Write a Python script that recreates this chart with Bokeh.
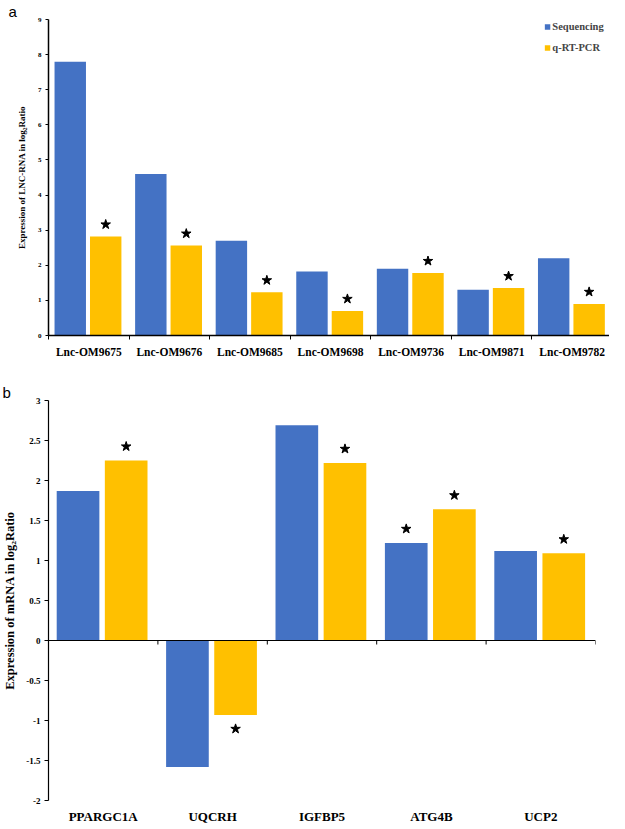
from bokeh.plotting import figure
from bokeh.layouts import column
from bokeh.models import (FixedTicker, NumeralTickFormatter, Range1d, Span, Title,
                          ColumnDataSource, Legend, LegendItem)
from bokeh.embed import file_html
from bokeh.resources import INLINE

# ---------------- data ----------------
cats_a = ["Lnc-OM9675", "Lnc-OM9676", "Lnc-OM9685", "Lnc-OM9698",
          "Lnc-OM9736", "Lnc-OM9871", "Lnc-OM9782"]
seq_a = [7.8, 4.6, 2.7, 1.82, 1.9, 1.3, 2.2]
qpcr_a = [2.82, 2.56, 1.23, 0.7, 1.78, 1.35, 0.9]
star_seq_a = [False] * 7
star_qpcr_a = [True] * 7
yticks_a = [0, 1, 2, 3, 4, 5, 6, 7, 8, 9]

cats_b = ["PPARGC1A", "UQCRH", "IGFBP5", "ATG4B", "UCP2"]
seq_b = [1.87, -1.58, 2.69, 1.22, 1.12]
qpcr_b = [2.25, -0.93, 2.22, 1.64, 1.09]
star_seq_b = [False, False, False, True, False]
star_qpcr_b = [True, True, True, True, True]
yticks_b = [-2, -1.5, -1, -0.5, 0, 0.5, 1, 1.5, 2, 2.5, 3]

BLUE = "#4472C4"
GOLD = "#FFC000"
SERIF = "Liberation Serif"

SEQ_OFF, Q_OFF, BAR_W = 0.27, 0.71, 0.39


def star_points(vals, flags, x_off, pad):
    xs, ys = [], []
    for i, (v, f) in enumerate(zip(vals, flags)):
        if f:
            xs.append(i + x_off)
            ys.append(v + pad if v >= 0 else v - pad)
    return xs, ys


def style_common(p):
    p.xgrid.visible = False
    p.ygrid.visible = False
    p.outline_line_color = None
    p.background_fill_color = "white"
    p.border_fill_color = "white"


def panel_title(text, offset):
    return Title(text=text, align="left", offset=offset, standoff=0,
                 text_font="Liberation Sans", text_font_size="15px",
                 text_font_style="normal", text_color="black")


# ---------------- panel a ----------------
FW_A, FH_A = 564, 316
ymin_a, ymax_a = yticks_a[0], yticks_a[-1]
pa = figure(frame_width=FW_A, frame_height=FH_A, x_range=Range1d(0, len(cats_a)),
            y_range=Range1d(ymin_a, ymax_a), output_backend="svg", toolbar_location=None,
            min_border_left=40, min_border_right=5, min_border_top=8, min_border_bottom=22)
style_common(pa)
pa.add_layout(panel_title("a", -40), "above")

src_a = ColumnDataSource(dict(
    xs=[i + SEQ_OFF for i in range(len(cats_a))],
    xq=[i + Q_OFF for i in range(len(cats_a))],
    seq=seq_a, q=qpcr_a))
r1 = pa.vbar(x="xs", top="seq", bottom=0, width=BAR_W, source=src_a,
             fill_color=BLUE, line_color=None)
r2 = pa.vbar(x="xq", top="q", bottom=0, width=BAR_W, source=src_a,
             fill_color=GOLD, line_color=None)

pad_a = 12 * (ymax_a - ymin_a) / FH_A
sx, sy = star_points(seq_a, star_seq_a, SEQ_OFF, pad_a)
qx, qy = star_points(qpcr_a, star_qpcr_a, Q_OFF, pad_a)
pa.scatter(sx + qx, sy + qy, marker="star", size=10, fill_color="black", line_color="black")

pa.xaxis.ticker = FixedTicker(ticks=[i + 0.5 for i in range(len(cats_a))],
                              minor_ticks=list(range(len(cats_a) + 1)))
pa.xaxis.major_label_overrides = {i + 0.5: c for i, c in enumerate(cats_a)}
pa.xaxis.major_tick_out = 0
pa.xaxis.major_tick_in = 0
pa.xaxis.minor_tick_out = 4
pa.xaxis.minor_tick_in = 0
pa.xaxis.minor_tick_line_color = "black"
pa.xaxis.axis_line_color = "black"
pa.xaxis.axis_line_width = 1.5
pa.xaxis.major_label_text_font = SERIF
pa.xaxis.major_label_text_font_style = "bold"
pa.xaxis.major_label_text_font_size = "11.5px"
pa.xaxis.major_label_text_color = "black"
pa.xaxis.major_label_standoff = 6

pa.yaxis.ticker = FixedTicker(ticks=yticks_a, minor_ticks=[])
pa.yaxis.major_tick_out = 3
pa.yaxis.major_tick_in = 0
pa.yaxis.axis_line_color = "black"
pa.yaxis.axis_line_width = 1.5
pa.yaxis.major_label_text_font = SERIF
pa.yaxis.major_label_text_font_style = "bold"
pa.yaxis.major_label_text_font_size = "7px"
pa.yaxis.major_label_text_color = "black"
pa.yaxis.major_label_standoff = 4
pa.yaxis.axis_label = "Expression of LNC-RNA in log\u2082Ratio"
pa.yaxis.axis_label_text_font = SERIF
pa.yaxis.axis_label_text_font_style = "bold"
pa.yaxis.axis_label_text_font_size = "9px"
pa.yaxis.axis_label_text_color = "black"
pa.yaxis.axis_label_standoff = 8

legend = Legend(items=[LegendItem(label="Sequencing", renderers=[r1]),
                       LegendItem(label="q-RT-PCR", renderers=[r2])],
                location="top_right", glyph_width=7, glyph_height=7,
                label_text_font=SERIF, label_text_font_style="bold",
                label_text_font_size="10.5px", label_standoff=2, spacing=10,
                padding=0, margin=2, border_line_color=None,
                background_fill_alpha=0)
pa.add_layout(legend)

# ---------------- panel b ----------------
FW_B, FH_B = 547, 400
ymin_b, ymax_b = yticks_b[0], yticks_b[-1]
pb = figure(frame_width=FW_B, frame_height=FH_B, x_range=Range1d(0, len(cats_b)),
            y_range=Range1d(ymin_b, ymax_b), output_backend="svg", toolbar_location=None,
            min_border_left=45, min_border_right=17, min_border_top=40, min_border_bottom=22)
style_common(pb)
pb.add_layout(panel_title("b", -46), "above")

src_b = ColumnDataSource(dict(
    xs=[i + SEQ_OFF for i in range(len(cats_b))],
    xq=[i + Q_OFF for i in range(len(cats_b))],
    seq=seq_b, q=qpcr_b))
pb.vbar(x="xs", top="seq", bottom=0, width=BAR_W, source=src_b,
        fill_color=BLUE, line_color=None)
pb.vbar(x="xq", top="q", bottom=0, width=BAR_W, source=src_b,
        fill_color=GOLD, line_color=None)

pad_b = 14 * (ymax_b - ymin_b) / FH_B
sx, sy = star_points(seq_b, star_seq_b, SEQ_OFF, pad_b)
qx, qy = star_points(qpcr_b, star_qpcr_b, Q_OFF, pad_b)
pb.scatter(sx + qx, sy + qy, marker="star", size=10, fill_color="black", line_color="black")

# zero line acting as x axis, with category boundary ticks
pb.add_layout(Span(location=0, dimension="width", line_color="black", line_width=1.2))
tick_len_b = 4 * (ymax_b - ymin_b) / FH_B
bounds_b = list(range(1, len(cats_b) + 1))
pb.segment(x0=bounds_b, y0=[0] * len(bounds_b), x1=bounds_b, y1=[-tick_len_b] * len(bounds_b),
           line_color="black", line_width=1)

pb.xaxis.ticker = FixedTicker(ticks=[i + 0.5 for i in range(len(cats_b))], minor_ticks=[])
pb.xaxis.major_label_overrides = {i + 0.5: c for i, c in enumerate(cats_b)}
pb.xaxis.major_tick_out = 0
pb.xaxis.major_tick_in = 0
pb.xaxis.axis_line_color = None
pb.xaxis.major_label_text_font = SERIF
pb.xaxis.major_label_text_font_style = "bold"
pb.xaxis.major_label_text_font_size = "13px"
pb.xaxis.major_label_text_color = "black"
pb.xaxis.major_label_standoff = 8

pb.yaxis.ticker = FixedTicker(ticks=yticks_b, minor_ticks=[])
pb.yaxis.formatter = NumeralTickFormatter(format="0.[0]")
pb.yaxis.major_tick_out = 4
pb.yaxis.major_tick_in = 0
pb.yaxis.axis_line_color = "black"
pb.yaxis.axis_line_width = 1.2
pb.yaxis.major_label_text_font = SERIF
pb.yaxis.major_label_text_font_style = "bold"
pb.yaxis.major_label_text_font_size = "9px"
pb.yaxis.major_label_text_color = "black"
pb.yaxis.major_label_standoff = 4
pb.yaxis.axis_label = "Expression of mRNA in log\u2082Ratio"
pb.yaxis.axis_label_text_font = SERIF
pb.yaxis.axis_label_text_font_style = "bold"
pb.yaxis.axis_label_text_font_size = "12.5px"
pb.yaxis.axis_label_text_color = "black"
pb.yaxis.axis_label_standoff = 6

layout = column(pa, pb, spacing=0)
open("out.html", "w").write(file_html(layout, INLINE))
